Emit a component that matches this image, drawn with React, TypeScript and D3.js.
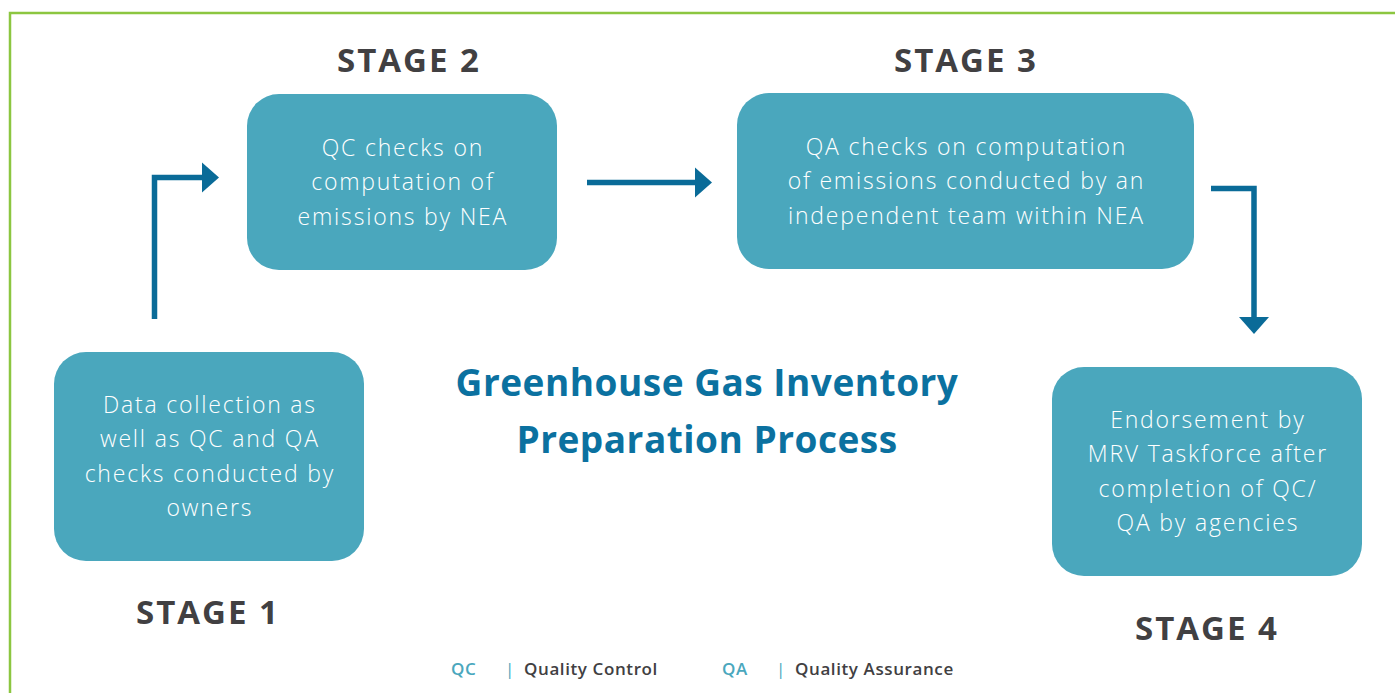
import React from "react";
import * as d3 from "d3";

// ---- content ----
const stageLabels = ["STAGE 1", "STAGE 2", "STAGE 3", "STAGE 4"];
const stageTexts = [
  ["Data collection as", "well as QC and QA", "checks conducted by", "owners"],
  ["QC checks on", "computation of", "emissions by NEA"],
  ["QA checks on computation", "of emissions conducted by an", "independent team within NEA"],
  ["Endorsement by", "MRV Taskforce after", "completion of QC/", "QA by agencies"],
];
const titleLines = ["Greenhouse Gas Inventory", "Preparation Process"];
const legendAbbr = ["QC", "QA"];
const legendFull = ["Quality Control", "Quality Assurance"];

// ---- layout ----
const W = 1395;
const H = 693;
const boxes = [
  { x0: 54, x1: 364, y0: 352, y1: 561, labelY: 624 },
  { x0: 247, x1: 557, y0: 94, y1: 270, labelY: 72 },
  { x0: 737, x1: 1194, y0: 93, y1: 269, labelY: 72 },
  { x0: 1052, x1: 1362, y0: 367, y1: 576, labelY: 640 },
];
const labelX = [208, 409, 966, 1207];
const arrows: { pts: [number, number][]; dir: "right" | "down" }[] = [
  { pts: [[154.5, 319], [154.5, 177.5], [203, 177.5]], dir: "right" },
  { pts: [[587, 182.5], [696, 182.5]], dir: "right" },
  { pts: [[1211, 188.5], [1254, 188.5], [1254, 318]], dir: "down" },
];
const legendX = { abbr: [451, 722], bar: [505, 776], full: [524, 795] };

const BOX = "#4aa7bd";
const ARROW = "#0a6b98";
const TITLE = "#0b71a0";
const DARK = "#414042";
const GREEN = "#8cc640";
const FONT = "'Open Sans', sans-serif";

const line = d3.line<[number, number]>().x((d) => d[0]).y((d) => d[1]);

function head(p: [number, number], dir: "right" | "down") {
  const L = 16, hw = 15;
  const path = d3.path();
  if (dir === "right") {
    path.moveTo(p[0] - 1, p[1] - hw);
    path.lineTo(p[0] + L, p[1]);
    path.lineTo(p[0] - 1, p[1] + hw);
  } else {
    path.moveTo(p[0] - hw, p[1] - 1);
    path.lineTo(p[0], p[1] + L);
    path.lineTo(p[0] + hw, p[1] - 1);
  }
  path.closePath();
  return path.toString();
}

export default function App() {
  const lh = 34.5;
  return (
    <svg
      width={W}
      height={H}
      style={{ position: "absolute", left: 0, top: 0, background: "#fff" }}
    >
      <rect x={10} y={13} width={W + 20} height={H + 20} fill="none" stroke={GREEN} strokeWidth={2.5} />

      {boxes.map((b, i) => {
        const cx = (b.x0 + b.x1) / 2;
        const cy = (b.y0 + b.y1) / 2;
        const lines = stageTexts[i];
        const first = cy - ((lines.length - 1) * lh) / 2 + 8;
        return (
          <g key={i}>
            <rect x={b.x0} y={b.y0} width={b.x1 - b.x0} height={b.y1 - b.y0} rx={32} ry={32} fill={BOX} />
            {lines.map((t, j) => (
              <text
                key={j}
                x={cx + 0.9}
                y={first + j * lh}
                textAnchor="middle"
                fill="#fff"
                fontFamily={FONT}
                fontWeight={300}
                fontSize={23}
                letterSpacing={1.8}
              >
                {t}
              </text>
            ))}
            <text
              x={labelX[i]}
              y={b.labelY}
              textAnchor="middle"
              fill={DARK}
              fontFamily={FONT}
              fontWeight={700}
              fontSize={33}
              letterSpacing={2}
            >
              {stageLabels[i]}
            </text>
          </g>
        );
      })}

      {arrows.map((a, i) => (
        <g key={i}>
          <path d={line(a.pts) || ""} fill="none" stroke={ARROW} strokeWidth={5.5} />
          <path d={head(a.pts[a.pts.length - 1], a.dir)} fill={ARROW} />
        </g>
      ))}

      {titleLines.map((t, i) => (
        <text
          key={i}
          x={707}
          y={396 + i * 57}
          textAnchor="middle"
          fill={TITLE}
          fontFamily={FONT}
          fontWeight={700}
          fontSize={37}
          letterSpacing={0.5}
        >
          {t}
        </text>
      ))}

      {legendAbbr.map((a, i) => (
        <g key={i} fontFamily={FONT} fontSize={17} fontWeight={600} letterSpacing={0.6}>
          <text x={legendX.abbr[i]} y={675} fill={BOX}>{a}</text>
          <text x={legendX.bar[i]} y={675} fill={BOX} fontWeight={400}>|</text>
          <text x={legendX.full[i]} y={675} fill={DARK}>{legendFull[i]}</text>
        </g>
      ))}
    </svg>
  );
}
